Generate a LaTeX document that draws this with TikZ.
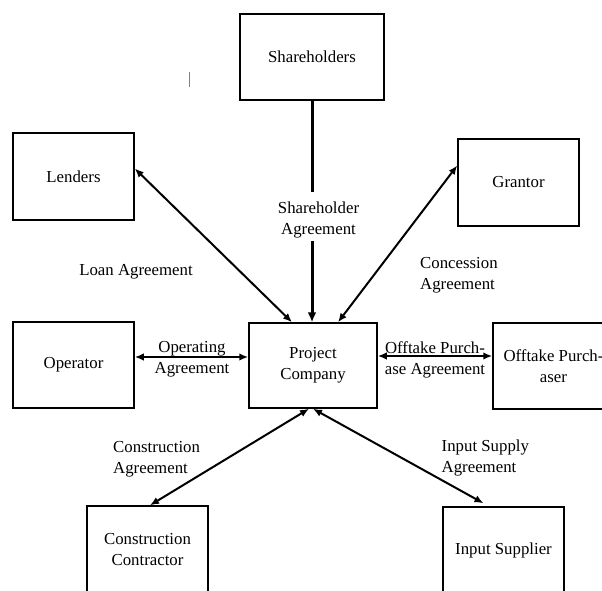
\documentclass[tikz,border=0pt]{standalone}
\usepackage{fontspec}
\setmainfont{Liberation Serif}
\usetikzlibrary{arrows.meta}
\tikzset{
	party/.style={draw,line width=1.5pt,minimum width=121pt,minimum height=87pt,align=center,inner sep=0pt},
	deal/.style={align=left,inner sep=0pt},
	link/.style={line width=2pt,{Latex[length=9pt,width=7.5pt]}-{Latex[length=9pt,width=7.5pt]}}
}
\begin{document}
\begin{tikzpicture}[x=1pt,y=-1pt,font=\fontsize{16.8pt}{21pt}\selectfont]
		\useasboundingbox (0,0) rectangle (602,590);
		% parties
		\node[party,minimum width=144pt,minimum height=86pt] (share) at (312,57) {Shareholders};
		\node[party] (lend) at (73.5,176.5) {Lenders};
		\node[party] (grant) at (518.5,182.5) {Grantor};
		\node[party,minimum height=86pt] (oper) at (73.5,365) {Operator};
		\node[party,minimum width=128pt,minimum height=85pt] (proj) at (313,365.5) {Project\\Company};
		\node[party,minimum height=86pt] (offt) at (553.5,366) {Offtake Purch-\\aser};
		\node[party] (cons) at (147.5,549.5) {Construction\\Contractor};
		\node[party] (input) at (503.5,550.5) {Input Supplier};
		% agreements
		\node[deal,align=center] (shag) at (318.5,219.5) {Shareholder\\Agreement};
		\node[deal] (loan) at (136,272) {Loan Agreement};
		\node[deal,anchor=west] (conc) at (420,275) {Concession\\Agreement};
		\node[deal,align=center] (opag) at (192,359.5) {Operating\\Agreement};
		\node[deal,align=center] (ofag) at (435,359.5) {Offtake Purch-\\ase Agreement};
		\node[deal,anchor=west] (coag) at (113,459) {Construction\\Agreement};
		\node[deal,anchor=west] (inag) at (441.5,457.5) {Input Supply\\Agreement};
		% connectors
		\draw[line width=3pt] (share.south)--(312,192);
		\draw[line width=3pt,-{Latex[length=10pt,width=9pt]}] (312,241)--([xshift=-1pt]proj.north);
		\draw[link] ([yshift=8pt]lend.east)--([xshift=-21pt]proj.north);
		\draw[link] ([yshift=17pt]grant.west)--([xshift=25pt]proj.north);
		\draw[link] ([yshift=8pt]oper.east)--([yshift=8.5pt]proj.west);
		\draw[link] ([yshift=9.5pt]proj.east)--([yshift=10pt]offt.west);
		\draw[link] ([xshift=-4pt]proj.south)--([xshift=2.5pt]cons.north);
		\draw[link] (proj.south)--([xshift=-20pt,yshift=3pt]input.north);
		\draw[line width=0.6pt,gray] (189,72)--(189,87);
		\end{tikzpicture}
\end{document}
